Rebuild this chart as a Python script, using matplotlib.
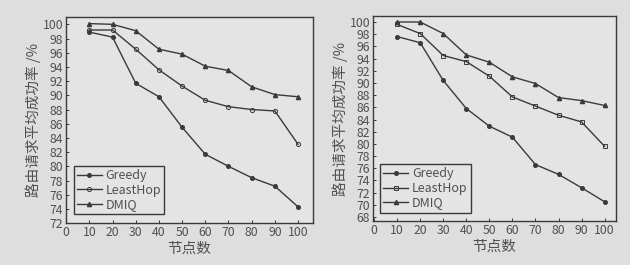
import matplotlib.pyplot as plt

plt.rcParams['font.family'] = ['Noto Sans CJK SC', 'DejaVu Sans']

nodes = [10, 20, 30, 40, 50, 60, 70, 80, 90, 100]

# left panel
greedy_a = [98.9, 98.2, 91.7, 89.8, 85.5, 81.7, 80.0, 78.4, 77.2, 74.3]
leasthop_a = [99.2, 99.2, 96.5, 93.6, 91.3, 89.3, 88.4, 88.0, 87.8, 83.1]
dmiq_a = [100.1, 100.0, 99.1, 96.5, 95.8, 94.1, 93.5, 91.2, 90.1, 89.8]

# right panel
greedy_b = [97.6, 96.6, 90.4, 85.8, 82.9, 81.1, 76.6, 75.0, 72.8, 70.5]
leasthop_b = [99.6, 98.1, 94.5, 93.5, 91.1, 87.7, 86.2, 84.7, 83.6, 79.6]
dmiq_b = [100.0, 100.0, 98.1, 94.6, 93.4, 91.0, 89.9, 87.6, 87.1, 86.3]

xticks = list(range(0, 101, 10))
yticks_a = list(range(72, 101, 2))
yticks_b = list(range(68, 101, 2))

ink = '#3a3a3a'
txt = '#505050'
bg = '#dedede'

fig = plt.figure(figsize=(6.3, 2.65), dpi=100, facecolor=bg)
ax1 = fig.add_axes([0.105, 0.158, 0.392, 0.777])
ax2 = fig.add_axes([0.592, 0.165, 0.386, 0.775])

panels = [
    (ax1, greedy_a, leasthop_a, dmiq_a, yticks_a, (72, 101), (0, 106.5), 'o'),
    (ax2, greedy_b, leasthop_b, dmiq_b, yticks_b, (67.3, 101), (-0.5, 105), 's'),
]

for ax, g, l, d, yt, ylim, xlim, lh_marker in panels:
    ax.set_facecolor('#e4e4e4')
    ax.plot(nodes, g, color=ink, lw=1.0, marker='o', ms=2.6, label='Greedy')
    ax.plot(nodes, l, color=ink, lw=1.0, marker=lh_marker, ms=3, mfc='none',
            mew=0.7, label='LeastHop')
    ax.plot(nodes, d, color=ink, lw=1.0, marker='^', ms=3, label='DMIQ')
    ax.set_xlim(*xlim)
    ax.set_ylim(*ylim)
    ax.set_xticks(xticks)
    ax.set_yticks(yt)
    ax.tick_params(direction='in', length=2.5, width=0.7, colors=ink,
                   labelcolor=txt, labelsize=8.8, pad=2)
    for s in ax.spines.values():
        s.set_color(ink)
        s.set_linewidth(1.0)
    ax.set_xlabel('节点数', color=txt, fontsize=10.5, labelpad=2)
    ax.set_ylabel('路由请求平均成功率 /%', color=txt, fontsize=10.5, labelpad=1)
    leg = ax.legend(loc='lower left', bbox_to_anchor=(0.02, 0.03), fontsize=9,
                    handlelength=2.0, handletextpad=0.3, borderpad=0.25,
                    labelspacing=0.12, frameon=True, fancybox=False,
                    framealpha=1, borderaxespad=0.2)
    leg.get_frame().set_edgecolor(ink)
    leg.get_frame().set_linewidth(1.0)
    leg.get_frame().set_facecolor('#e4e4e4')
    for t in leg.get_texts():
        t.set_color(txt)

fig.savefig('out.png', dpi=100, facecolor=bg)
